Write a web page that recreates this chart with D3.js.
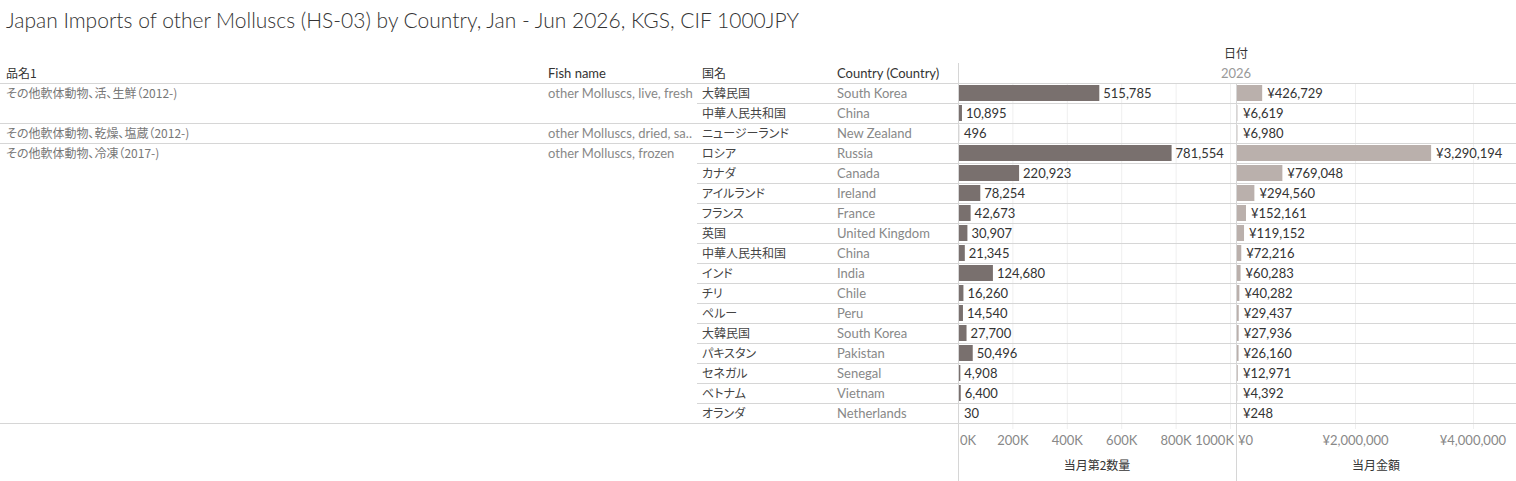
<!DOCTYPE html>
<html>
<head>
<meta charset="utf-8">
<script src="https://cdn.jsdelivr.net/npm/d3@7"></script>
<style>
  body { margin: 0; background: #fff; }
  svg text { font-family: Lato, "Noto Sans CJK JP", sans-serif; font-size: 13px; }
  svg text.jp { font-family: "Noto Sans CJK JP", sans-serif; font-size: 12px; font-feature-settings: "palt"; }
</style>
</head>
<body>
<svg id="chart" width="1516" height="481"></svg>
<script>
// product groups (品名1 / Fish name)
var productJp = ['その他軟体動物、活、生鮮（2012-)', 'その他軟体動物、乾燥、塩蔵（2012-)', 'その他軟体動物、冷凍（2017-)'];
var productEn = ['other Molluscs, live, fresh', 'other Molluscs, dried, sa..', 'other Molluscs, frozen'];
var groupSize = [2, 1, 14];

// one entry per row
var countryJp = ['大韓民国', '中華人民共和国', 'ニュージーランド', 'ロシア', 'カナダ', 'アイルランド', 'フランス', '英国',
    '中華人民共和国', 'インド', 'チリ', 'ペルー', '大韓民国', 'パキスタン', 'セネガル', 'ベトナム', 'オランダ'];
var countryEn = ['South Korea', 'China', 'New Zealand', 'Russia', 'Canada', 'Ireland', 'France', 'United Kingdom',
    'China', 'India', 'Chile', 'Peru', 'South Korea', 'Pakistan', 'Senegal', 'Vietnam', 'Netherlands'];
var quantity = [515785, 10895, 496, 781554, 220923, 78254, 42673, 30907, 21345, 124680, 16260, 14540, 27700, 50496, 4908, 6400, 30];
var amount = [426729, 6619, 6980, 3290194, 769048, 294560, 152161, 119152, 72216, 60283, 40282, 29437, 27936, 26160, 12971, 4392, 248];

var qtyTicks = [0, 200000, 400000, 600000, 800000, 1000000];
var amtTicks = [0, 2000000, 4000000];

var svg = d3.select('#chart');
var rowH = 20, topY = 83;
var lineColor = '#d6d6d6', gridColor = '#efefef';

var rows = countryJp.map(function(d, i) { return i; });
var y = d3.scaleBand().domain(rows).range([topY, topY + rowH * rows.length]);
var bottomY = topY + rowH * rows.length;

var xQty = d3.scaleLinear().domain([0, 1000000]).range([958, 1230]);
var xAmt = d3.scaleLinear().domain([0, 4000000]).range([1237, 1473]);

// title
svg.append('text').attr('x', 6).attr('y', 28)
    .style('font-size', '21px').style('font-weight', 300).style('fill', '#333')
    .text('Japan Imports of other Molluscs (HS-03) by Country, Jan - Jun 2026, KGS, CIF 1000JPY');

// column headers
svg.append('text').attr('class', 'jp').attr('x', 1236).attr('y', 58).attr('text-anchor', 'middle')
    .style('fill', '#333').text('日付');
svg.append('text').attr('x', 1236).attr('y', 78).attr('text-anchor', 'middle')
    .style('fill', '#999').text('2026');
var heads = [[6, '品名1', 'jp'], [548, 'Fish name', ''], [702, '国名', 'jp'], [837, 'Country (Country)', '']];
svg.selectAll('text.head').data(heads).enter().append('text')
    .attr('class', function(d) { return 'head ' + d[2]; })
    .attr('x', function(d) { return d[0]; }).attr('y', 78)
    .style('fill', '#333')
    .text(function(d) { return d[1]; });

// gridlines
svg.append('g').selectAll('line').data(qtyTicks.slice(1)).enter().append('line')
    .attr('x1', function(d) { return xQty(d) + 0.5; }).attr('x2', function(d) { return xQty(d) + 0.5; })
    .attr('y1', topY).attr('y2', bottomY + 6).attr('stroke', gridColor);
svg.append('g').selectAll('line').data(amtTicks.slice(1)).enter().append('line')
    .attr('x1', function(d) { return xAmt(d) + 0.5; }).attr('x2', function(d) { return xAmt(d) + 0.5; })
    .attr('y1', topY).attr('y2', bottomY + 6).attr('stroke', gridColor);

// row separators
svg.append('g').selectAll('line').data(rows).enter().append('line')
    .attr('x1', 697).attr('x2', 1516)
    .attr('y1', function(i) { return y(i) + 0.5; }).attr('y2', function(i) { return y(i) + 0.5; })
    .attr('stroke', lineColor);

// group separators and group labels
var starts = [];
groupSize.reduce(function(acc, n) { starts.push(acc); return acc + n; }, 0);
svg.append('g').selectAll('line').data(starts.concat([rows.length])).enter().append('line')
    .attr('x1', 0).attr('x2', 1516)
    .attr('y1', function(s) { return topY + s * rowH + 0.5; }).attr('y2', function(s) { return topY + s * rowH + 0.5; })
    .attr('stroke', lineColor);
svg.append('g').selectAll('text').data(productJp).enter().append('text')
    .attr('class', 'jp').attr('x', 6).attr('y', function(d, i) { return y(starts[i]) + 15; })
    .style('fill', '#777').text(function(d) { return d; });
svg.append('g').selectAll('text').data(productEn).enter().append('text')
    .attr('x', 548).attr('y', function(d, i) { return y(starts[i]) + 14.5; })
    .style('fill', '#888').text(function(d) { return d; });

// country names
svg.append('g').selectAll('text').data(countryJp).enter().append('text')
    .attr('class', 'jp').attr('x', 702).attr('y', function(d, i) { return y(i) + 15; })
    .style('fill', '#444').text(function(d) { return d; });
svg.append('g').selectAll('text').data(countryEn).enter().append('text')
    .attr('x', 837).attr('y', function(d, i) { return y(i) + 14.5; })
    .style('fill', '#888').text(function(d) { return d; });

// vertical dividers
svg.append('line').attr('x1', 958.5).attr('x2', 958.5).attr('y1', 63).attr('y2', 481).attr('stroke', lineColor);
svg.append('line').attr('x1', 1236.5).attr('x2', 1236.5).attr('y1', topY).attr('y2', 481).attr('stroke', lineColor);

// bars
var fmt = d3.format(',');
svg.append('g').selectAll('rect').data(quantity).enter().append('rect')
    .attr('x', xQty(0) + 1).attr('y', function(d, i) { return y(i) + 2; })
    .attr('width', function(d) { return Math.max(xQty(d) - xQty(0), 0); }).attr('height', rowH - 4)
    .attr('fill', '#79706e');
svg.append('g').selectAll('text').data(quantity).enter().append('text')
    .attr('x', function(d) { return Math.max(xQty(d), xQty(0) + 1) + 5; })
    .attr('y', function(d, i) { return y(i) + 14.5; })
    .style('fill', '#333').text(function(d) { return fmt(d); });

svg.append('g').selectAll('rect').data(amount).enter().append('rect')
    .attr('x', xAmt(0)).attr('y', function(d, i) { return y(i) + 2; })
    .attr('width', function(d) { return Math.max(xAmt(d) - xAmt(0), 0); }).attr('height', rowH - 4)
    .attr('fill', '#bab0ac');
svg.append('g').selectAll('text').data(amount).enter().append('text')
    .attr('x', function(d) { return Math.max(xAmt(d), xAmt(0) + 1) + 5; })
    .attr('y', function(d, i) { return y(i) + 14.5; })
    .style('fill', '#333').text(function(d) { return '¥' + fmt(d); });

// axes
function styleAxis(g, lo, hi) {
    g.select('.domain').remove();
    g.selectAll('.tick line').remove();
    g.selectAll('.tick text').style('font-size', '13px').style('fill', '#888')
        .style('font-family', 'Lato, sans-serif');
    // keep end labels inside the panel
    g.selectAll('.tick').each(function() {
        var t = d3.select(this), txt = t.select('text');
        var m = /translate\(([-\d.]+)/.exec(t.attr('transform'));
        var x = +m[1], w = txt.node().getComputedTextLength();
        if (x - w / 2 < lo) txt.attr('text-anchor', 'start').attr('x', lo - x);
        else if (x + w / 2 > hi) txt.attr('text-anchor', 'end').attr('x', hi - x);
    });
}
svg.append('g').attr('transform', 'translate(0,' + (bottomY + 10) + ')')
    .call(d3.axisBottom(xQty).tickValues(qtyTicks).tickSize(0)
        .tickFormat(function(d) { return (d / 1000) + 'K'; }))
    .call(styleAxis, 960, 1234);
svg.append('g').attr('transform', 'translate(0,' + (bottomY + 10) + ')')
    .call(d3.axisBottom(xAmt).tickValues(amtTicks).tickSize(0)
        .tickFormat(function(d) { return '¥' + fmt(d); }))
    .call(styleAxis, 1238, 1506);

svg.append('text').attr('class', 'jp').attr('x', 1097).attr('y', 470).attr('text-anchor', 'middle')
    .style('fill', '#333').text('当月第2数量');
svg.append('text').attr('class', 'jp').attr('x', 1376).attr('y', 470).attr('text-anchor', 'middle')
    .style('fill', '#333').text('当月金額');
</script>
</body>
</html>
